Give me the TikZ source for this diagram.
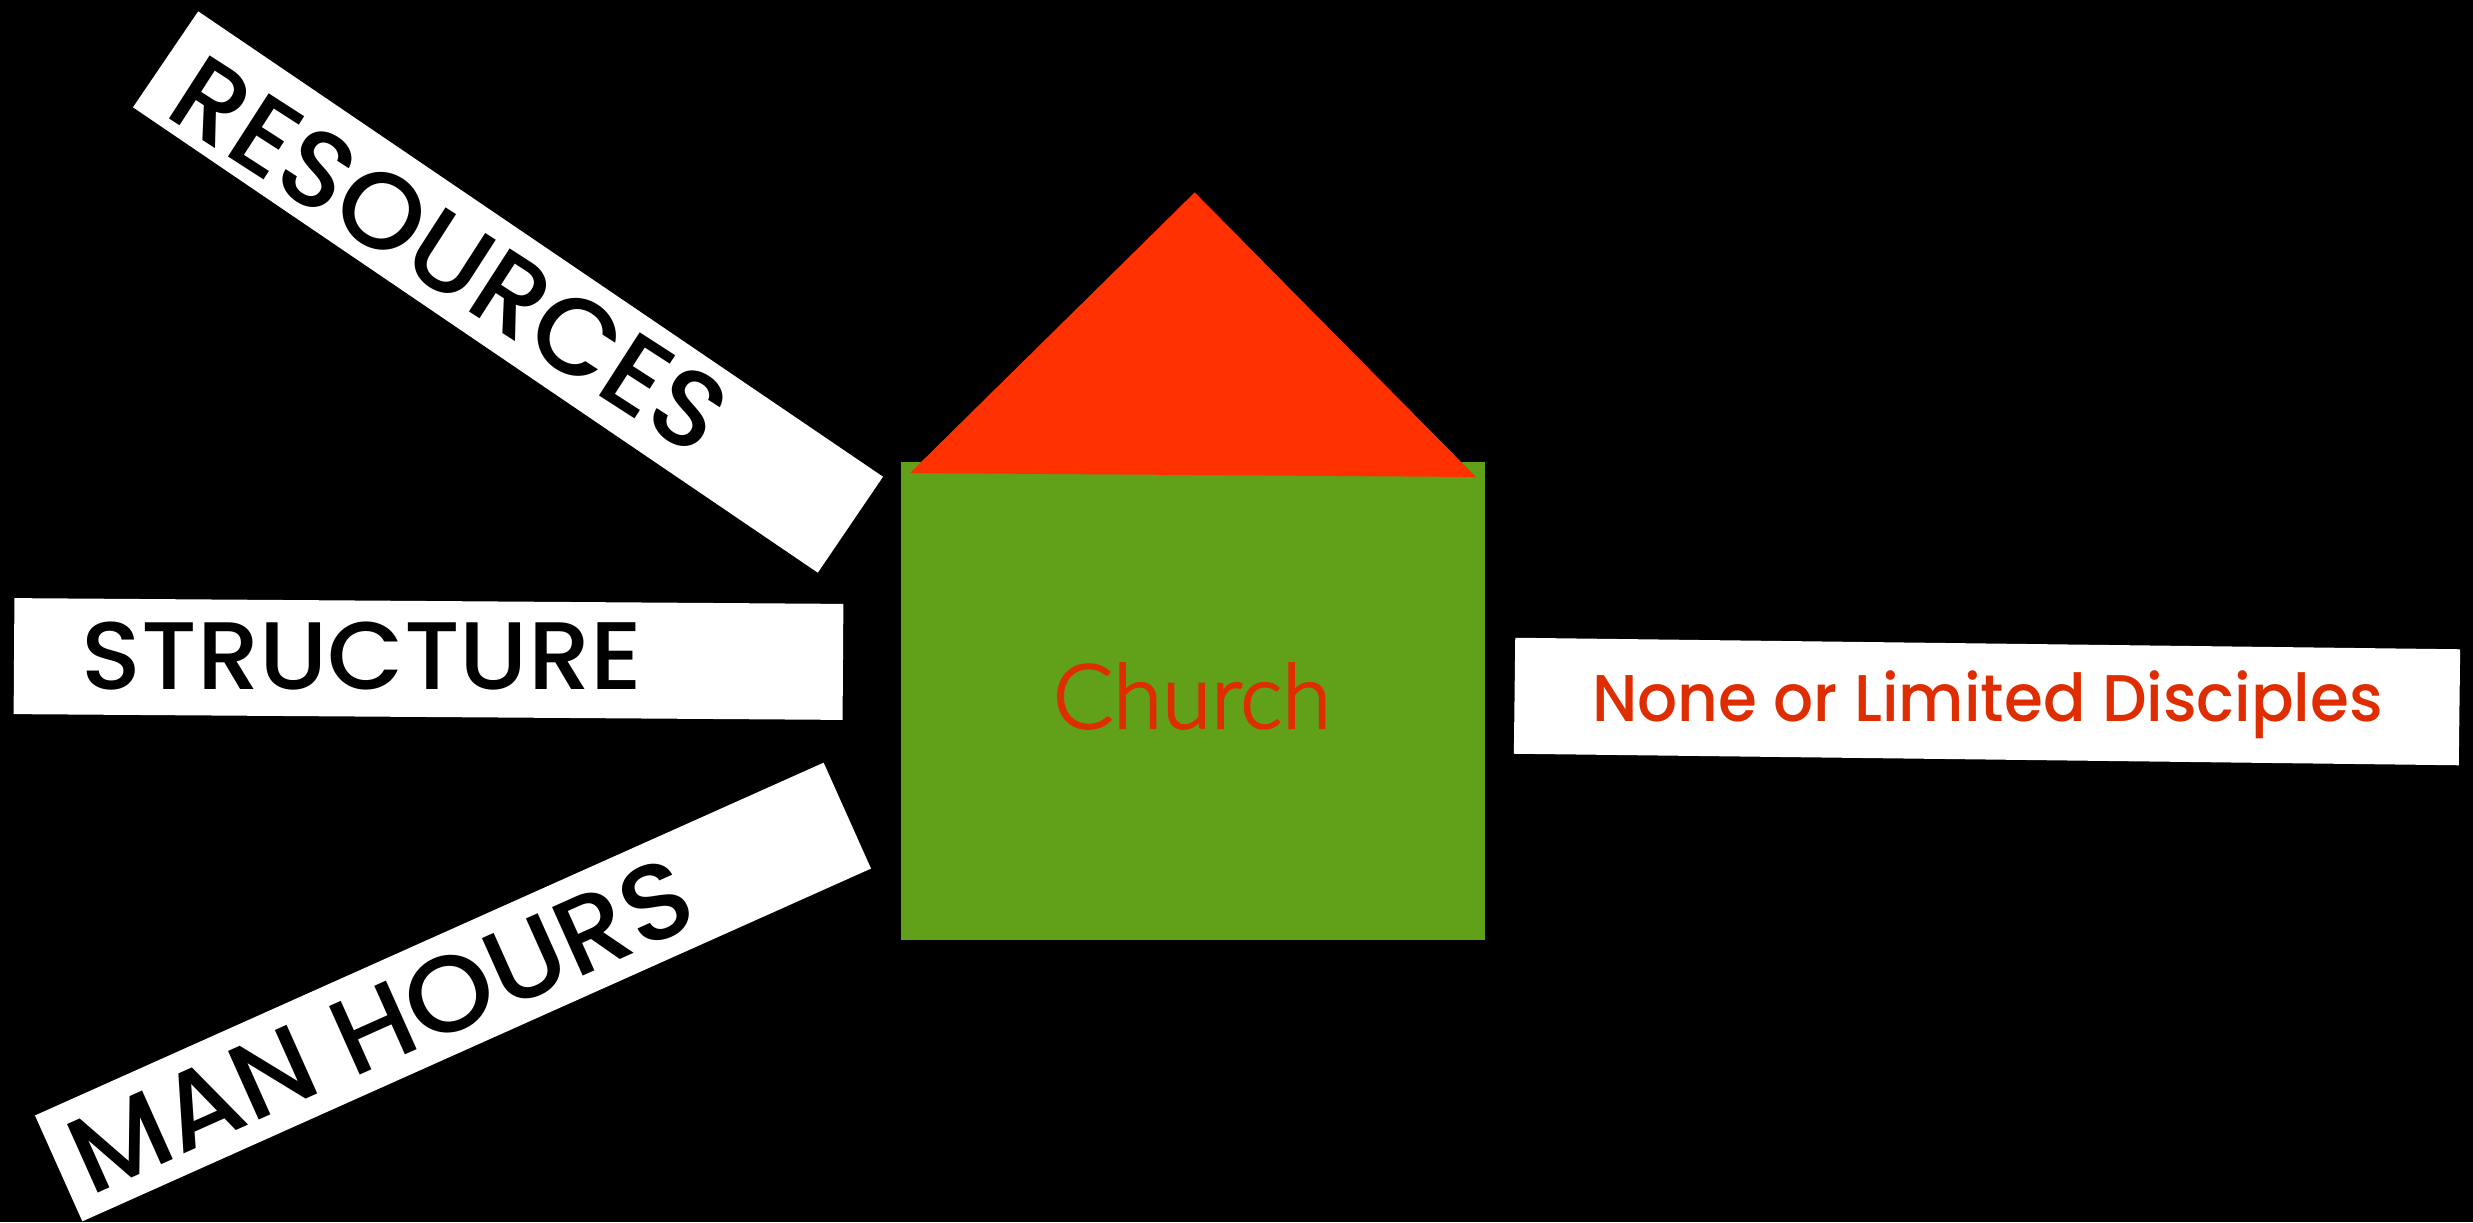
\documentclass[tikz,border=0pt]{standalone}
\usepackage{fontspec}
\setmainfont{Poppins Medium}
\newfontfamily\thinfont[FakeBold=2.5]{Lato Light}
\usetikzlibrary{positioning}
\definecolor{wallgreen}{RGB}{96,161,25}
\definecolor{roofred}{RGB}{255,49,0}
\definecolor{textred}{RGB}{222,45,0}
\newcommand{\widen}[2]{\scalebox{#1}[1]{#2}}

\begin{document}
\begin{tikzpicture}[x=0.5pt, y=-0.5pt,
                      sign/.style = {
                        fill=white, inner sep=0pt,
                        minimum width=#1*0.5pt, minimum height=58pt
                      },
                      bigword/.style = {
                        text=black, inner sep=0pt,
                        font=\fontsize{54}{54}\selectfont
                      }]
    \useasboundingbox (0,0) rectangle (2473,1222);
    \fill[black] (0,0) rectangle (2473,1222);

    % the three inputs
    \node(resources)[sign=828, rotate=-34.2] at (508,292) {};
    \node(resourcesword)[bigword, rotate=-32.8] at (450,255) {\widen{1.02}{RESOURCES}};
    \node(structure)[sign=829, rotate=-0.4] at (428.5,659) {};
    \node(structureword)[bigword, font=\fontsize{48}{48}\selectfont] at (362,656) {\widen{1.03}{STRUCTURE}};
    \node(manhours)[sign=864, rotate=24.1] at (453,992) {};
    \node(manhoursword)[bigword, rotate=24.1] at (381,1025) {\widen{1.04}{MAN HOURS}};

    % the house
    \node(wall)[fill=wallgreen, inner sep=0pt, minimum width=292pt, minimum height=239pt] at (1192.5,701) {};
    \coordinate (roofleft) at (910,473);
    \coordinate (rooftop) at (1194.7,192.4);
    \coordinate (roofright) at (1476,477);
    \fill[roofred] (roofleft) -- (rooftop) -- (roofright) -- cycle;
    \node(church)[text=textred, inner sep=0pt, font=\thinfont\fontsize{44.5}{44.5}\selectfont] at (1192,696) {Church};

    % the outcome
    \node(outcome)[sign=945, rotate=-0.7] at (1987,701.5) {};
    \node(outcomeword)[text=textred, inner sep=0pt, font=\fontsize{33}{33}\selectfont] at (1987.5,705) {\widen{0.953}{None or Limited Disciples}};
\end{tikzpicture}
\end{document}
